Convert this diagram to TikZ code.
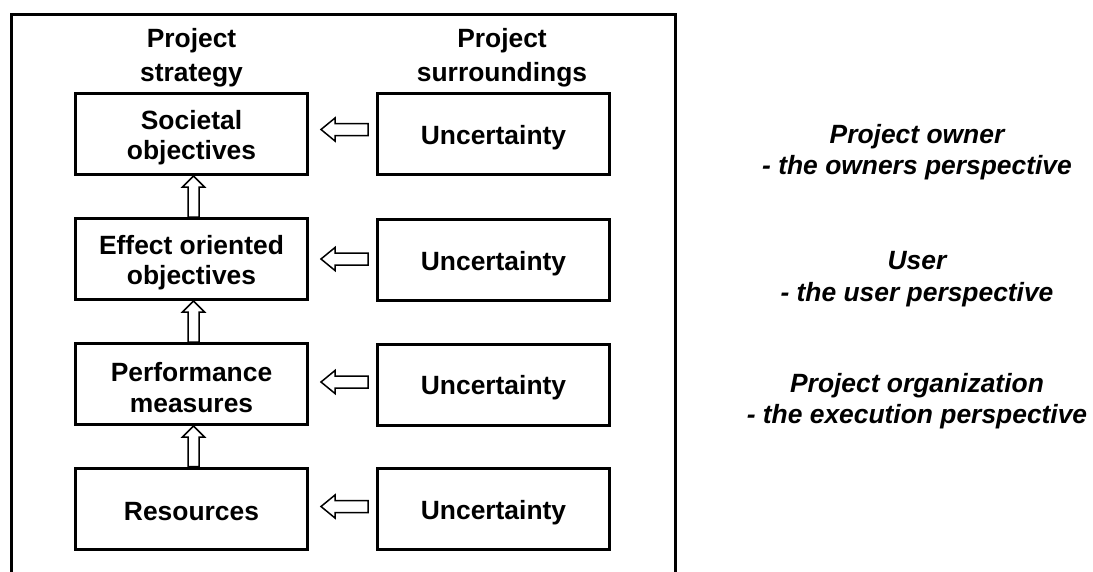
\documentclass[tikz,border=0pt]{standalone}
\usepackage{fontspec}
\setmainfont{Liberation Sans}
\usetikzlibrary{calc}
\tikzset{
  boxnode/.style={draw, line width=3pt, minimum width=232pt, minimum height=81pt, inner sep=0pt,
    label={[boxtext]center:{#1}}},
  boxtext/.style={yshift=-3.5pt, inner sep=0pt, align=center, font=\fontsize{26.4}{30.4}\selectfont\bfseries},
  headnode/.style={align=center, inner sep=0pt, font=\fontsize{26.4}{34}\selectfont\bfseries},
  sidenode/.style={align=center, inner sep=0pt, font=\fontsize{26.4}{31.5}\selectfont\bfseries\itshape},
  frameline/.style={line width=3pt},
  arr/.style={draw, line width=1.5pt, fill=white, line join=miter}
}
\newcommand{\harrowX}[3]{%
  \draw[arr] let \p1=($(#1.east)+(12,#3)$), \p2=($(#2.west)+(-8,#3)$) in
    (\x1,\y1) -- (\x1+14pt,\y1+11.5pt) -- (\x1+14pt,\y1+6pt) -- (\x2,\y1+6pt)
    -- (\x2,\y1-6pt) -- (\x1+14pt,\y1-6pt) -- (\x1+14pt,\y1-11.5pt) -- cycle;}
\newcommand{\varrowX}[2]{%
  \draw[arr] let \p1=($(#1.south)+(2,0)$), \p2=(#2.north) in
    (\x1,\y1) -- (\x1+11pt,\y1-11pt) -- (\x1+5.5pt,\y1-11pt) -- (\x1+5.5pt,\y2)
    -- (\x1-5.5pt,\y2) -- (\x1-5.5pt,\y1-11pt) -- (\x1-11pt,\y1-11pt) -- cycle;}
\begin{document}
\begin{tikzpicture}[x=1pt,y=-1pt]
\useasboundingbox (0,0) rectangle (1093,571);
% frame (open at the bottom)
\draw[frameline] (11.5,580) -- (11.5,14.5) -- (675.5,14.5) -- (675.5,580);
% headers
\node[headnode] (h1) at (191.5,58) {Project\\strategy};
\node[headnode] (h2) at (502,58) {Project\\surroundings};
% left column
\node[boxnode={Societal\\objectives}] (a1) at (191.5,134) {};
\node[boxnode={Effect oriented\\objectives}] (a2) at (191.5,259) {};
\node[boxnode={Performance\\measures}] (a3) at (191.5,384) {};
\node[boxnode={Resources}] (a4) at (191.5,508.5) {};
% right column
\node[boxnode={Uncertainty}] (u1) at (493.5,134) {};
\node[boxnode={Uncertainty}] (u2) at (493.5,260) {};
\node[boxnode={Uncertainty}] (u3) at (493.5,384.5) {};
\node[boxnode={Uncertainty}] (u4) at (493.5,509) {};
% arrows
\varrowX{a1}{a2}
\varrowX{a2}{a3}
\varrowX{a3}{a4}
\harrowX{a1}{u1}{-4.5}
\harrowX{a2}{u2}{0}
\harrowX{a3}{u3}{-2}
\harrowX{a4}{u4}{-2}
% side labels
\node[sidenode] (s1) at (917,152) {Project owner\\- the owners perspective};
\node[sidenode] (s2) at (917,279) {User\\- the user perspective};
\node[sidenode] (s3) at (917,401) {Project organization\\- the execution perspective};
\end{tikzpicture}
\end{document}
